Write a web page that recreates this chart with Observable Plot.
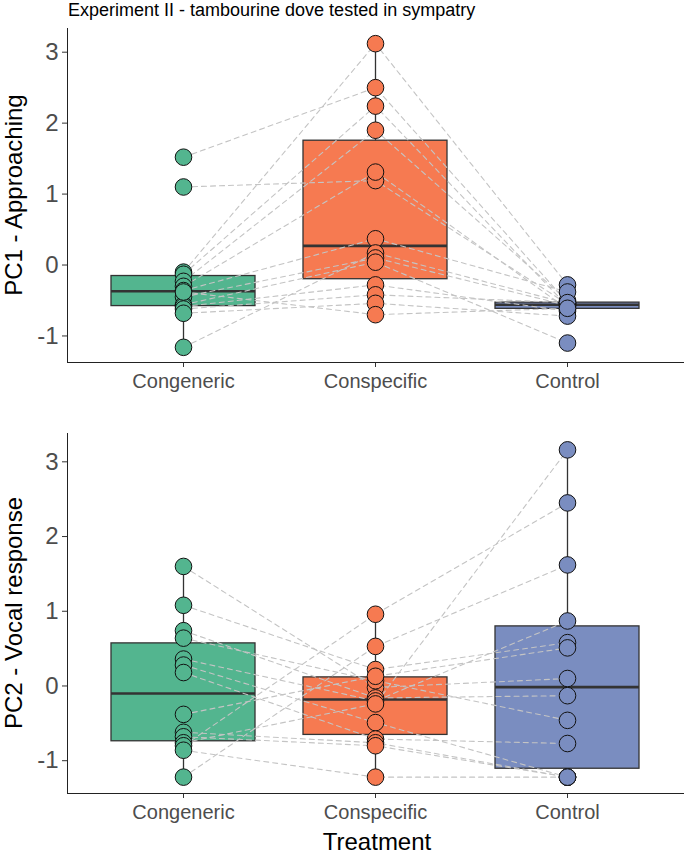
<!DOCTYPE html>
<html><head><meta charset="utf-8">
<script src="https://cdn.jsdelivr.net/npm/d3@7"></script>
<script src="https://cdn.jsdelivr.net/npm/@observablehq/plot@0.6"></script>
<style>
body{margin:0;background:#fff;font-family:"Liberation Sans",Arial,sans-serif;}
#wrap{position:relative;width:685px;height:854px;overflow:hidden;}
.abs{position:absolute;white-space:nowrap;}
.ylab{position:absolute;width:400px;text-align:center;font-size:24px;line-height:24px;color:#000;transform:rotate(-90deg);}
</style></head><body><div id="wrap"></div>
<script>
const title = "Experiment II - tambourine dove tested in sympatry";
const xTitle = "Treatment";
const treatments = ["Congeneric", "Conspecific", "Control"];
const colors = ["#53b58f", "#f67a51", "#7a8dc0"];
const yTicks = [-1, 0, 1, 2, 3];

// PC1 - Approaching (one entry per individual, same order in each treatment)
const pc1Congeneric  = [1.52, 1.10, -0.10, -0.13, -0.23, -0.30, -0.36, -1.16, -0.45, -0.56, -0.585, -0.62, -0.68, -0.38];
const pc1Conspecific = [2.50, 1.19, 3.12, 2.24, 1.90, 1.31, 0.37, 0.17, 0.10, 0.04, -0.28, -0.42, -0.54, -0.70];
const pc1Control     = [-0.53, -0.55, -0.28, -0.58, -0.50, -0.62, -0.38, -0.54, -0.57, -1.10, -0.65, -0.53, -0.72, -0.61];

// PC2 - Vocal response
const pc2Congeneric  = [1.60, 1.08, 0.74, 0.64, 0.36, 0.28, 0.18, -0.38, -0.62, -0.68, -0.76, -0.80, -0.86, -1.22];
const pc2Conspecific = [-0.02, 0.22, -0.16, 0.07, -0.20, -0.49, -0.71, 0.13, -0.76, -0.80, -0.24, 0.96, -1.22, 0.53];
const pc2Control     = [0.10, 0.58, -0.13, -0.46, 0.87, -1.22, -0.77, 0.51, -1.22, -1.22, 3.16, 2.45, -1.22, 1.62];

const wrap = document.getElementById("wrap");

function lowWhisker(v) {
  const q1 = d3.quantile(v, 0.25), q3 = d3.quantile(v, 0.75);
  const f = q1 - 1.5 * (q3 - q1);
  return d3.min(v.filter(x => x >= f));
}
function highWhisker(v) {
  const q1 = d3.quantile(v, 0.25), q3 = d3.quantile(v, 0.75);
  const f = q3 + 1.5 * (q3 - q1);
  return d3.max(v.filter(x => x <= f));
}

function makePanel(series, height, mt, mb) {
  const rows = treatments.flatMap((t, i) => series[i].map((v, j) => ({treatment: t, id: j + 1, value: v})));
  const [lo, hi] = d3.extent(rows, d => d.value);
  const pad = (hi - lo) * 0.05;
  return Plot.plot({
    width: 685, height,
    marginLeft: 67, marginRight: 2, marginTop: mt, marginBottom: mb,
    style: {fontFamily: "Liberation Sans, Arial, sans-serif", background: "transparent", overflow: "visible"},
    x: {domain: treatments, paddingInner: 0.25, paddingOuter: 0.225, label: null},
    y: {domain: [lo - pad, hi + pad], label: null},
    color: {domain: treatments, range: colors},
    marks: [
      Plot.ruleX(rows, Plot.groupX({y1: lowWhisker, y2: highWhisker}, {x: "treatment", y: "value", stroke: "#333", strokeWidth: 1.3})),
      Plot.barY(rows, Plot.groupX({y1: "p25", y2: "p75"}, {x: "treatment", y: "value", fill: "treatment", stroke: "#333", strokeWidth: 1.3})),
      Plot.tickY(rows, Plot.groupX({y: "median"}, {x: "treatment", y: "value", stroke: "#333", strokeWidth: 2.6})),
      Plot.line(rows, {x: "treatment", y: "value", z: "id", stroke: "#c4c4c4", strokeWidth: 1.1, strokeDasharray: "5,4"}),
      Plot.dot(rows, {x: "treatment", y: "value", fill: "treatment", stroke: "#111", strokeWidth: 1, r: 8.3}),
      Plot.axisY({ticks: yTicks, tickFormat: d => String(d), tickSize: 5, tickPadding: 4, fontSize: 24, fill: "#4d4d4d", stroke: "#333", label: null}),
      Plot.axisX({tickSize: 5, tickPadding: 6, fontSize: 20, fill: "#4d4d4d", stroke: "#333", label: null}),
      Plot.frame({anchor: "left", stroke: "#222"}),
      Plot.frame({anchor: "bottom", stroke: "#222"})
    ]
  });
}

function place(el, top) {
  el.style.position = "absolute"; el.style.left = "0px"; el.style.top = top + "px";
  wrap.appendChild(el);
}
place(makePanel([pc1Congeneric, pc1Conspecific, pc1Control], 400, 28, 38), 0);
place(makePanel([pc2Congeneric, pc2Conspecific, pc2Control], 420, 33, 27), 400);

function addText(txt, css, cls) {
  const d = document.createElement("div");
  d.className = cls || "abs";
  d.textContent = txt;
  Object.assign(d.style, css);
  wrap.appendChild(d);
}
addText(title, {left: "68px", top: "1px", fontSize: "18px", lineHeight: "18px", color: "#000"});
addText(xTitle, {left: "177px", width: "400px", textAlign: "center", top: "830px", fontSize: "24px", lineHeight: "24px", color: "#000"});
addText("PC1 - Approaching", {left: (14 - 200) + "px", top: (195 - 12) + "px"}, "ylab");
addText("PC2 - Vocal response", {left: (14 - 200) + "px", top: (613 - 12) + "px"}, "ylab");
</script>
</body></html>
